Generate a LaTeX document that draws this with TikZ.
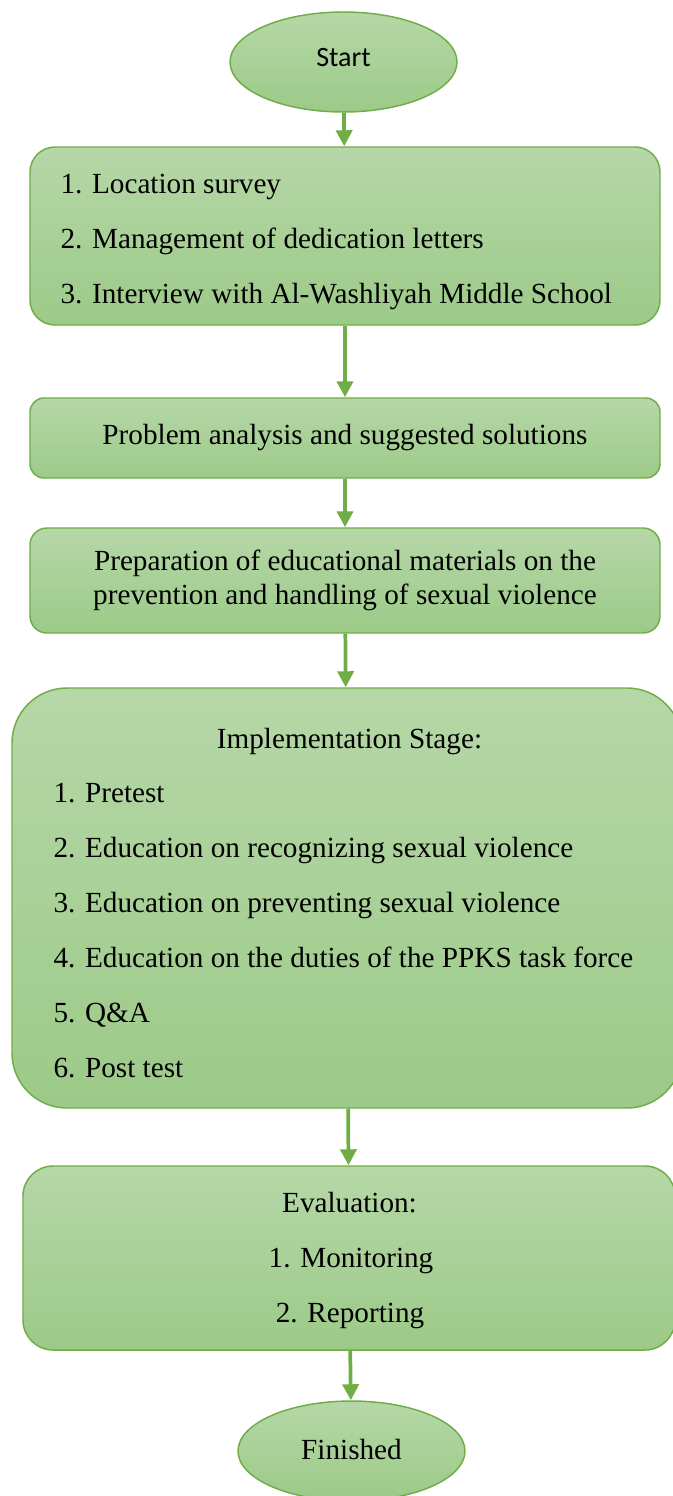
\documentclass[tikz,border=0pt]{standalone}
\usepackage{fontspec}
\setmainfont{Liberation Serif}
\newfontfamily\startfont{Carlito}
\usetikzlibrary{shapes.geometric,arrows.meta}

\definecolor{boxtop}{RGB}{182,215,168}
\definecolor{boxbottom}{RGB}{156,202,136}
\definecolor{boxline}{RGB}{112,173,71}

\tikzset{every picture/.style={line width=0.75pt}}
\tikzset{
  stepbox/.style={draw=boxline, line width=1.1pt, top color=boxtop, bottom color=boxbottom,
    inner sep=0pt, align=center, font=\fontsize{21.9}{25.5}\selectfont},
  termnode/.style={stepbox, ellipse, minimum width=170.25pt, minimum height=75pt},
  txt/.style={inner sep=0pt, font=\fontsize{21.9}{25.5}\selectfont},
  flow/.style={draw=boxline, line width=2.8pt, -{Triangle[length=12pt,width=12pt]}}
}

\begin{document}
\begin{tikzpicture}[x=0.75pt,y=0.75pt,yscale=-1,xscale=1]
\useasboundingbox (0,0) rectangle (672,1496); %set diagram size 672 x 1496

% Start
\node [termnode] (start) at (343.5,62) {\startfont\fontsize{21}{25}\selectfont\raisebox{7pt}{Start}};

% Preparation steps
\node [stepbox, rounded corners=18.75pt, minimum width=472.5pt, minimum height=133.5pt] (survey) at (345,236) {};
% Text Node
\node [txt, anchor=base west] (survey1) at (60,193) {1. Location survey};
% Text Node
\node [txt, anchor=base west] (survey2) at (60,248) {2. Management of dedication letters};
% Text Node
\node [txt, anchor=base west] (survey3) at (60,303) {3. Interview with Al-Washliyah Middle School};

% Analysis
\node [stepbox, rounded corners=10.5pt, minimum width=472.5pt, minimum height=60pt] (analysis) at (345,438) {\raisebox{3pt}{Problem analysis and suggested solutions}};

% Materials
\node [stepbox, rounded corners=12.75pt, minimum width=472.5pt, minimum height=78.75pt] (materials) at (345,580.5) {Preparation of educational materials on the\\prevention and handling of sexual violence};

% Implementation
\node [stepbox, rounded corners=41.25pt, minimum width=502.5pt, minimum height=315pt] (impl) at (347,898) {};
% Text Node
\node [txt, anchor=base] (impltitle) at (349.5,748) {Implementation Stage:};
% Text Node
\node [txt, anchor=base west] (impl1) at (53,802) {1. Pretest};
% Text Node
\node [txt, anchor=base west] (impl2) at (53,857) {2. Education on recognizing sexual violence};
% Text Node
\node [txt, anchor=base west] (impl3) at (53,912) {3. Education on preventing sexual violence};
% Text Node
\node [txt, anchor=base west] (impl4) at (53,967) {4. Education on the duties of the PPKS task force};
% Text Node
\node [txt, anchor=base west] (impl5) at (53,1022) {5. Q\&A};
% Text Node
\node [txt, anchor=base west] (impl6) at (53,1077) {6. Post test};

% Evaluation
\node [stepbox, rounded corners=22.5pt, minimum width=489pt, minimum height=138pt] (evaluation) at (349,1258) {};
% Text Node
\node [txt, anchor=base] (evaltitle) at (349.5,1212) {Evaluation:};
% Text Node
\node [txt, anchor=base] (eval1) at (351,1267) {1. Monitoring};
% Text Node
\node [txt, anchor=base] (eval2) at (350,1322) {2. Reporting};

% Finished
\node [termnode] (finish) at (351.5,1451) {\raisebox{3pt}{Finished}};

% Arrows
\draw [flow] (start) -- (survey);
\draw [flow] (survey) -- (analysis);
\draw [flow] (analysis) -- (materials);
\draw [flow] (materials) -- (impl);
\draw [flow] (impl) -- (evaluation);
\draw [flow] (evaluation) -- (finish);

\end{tikzpicture}
\end{document}
